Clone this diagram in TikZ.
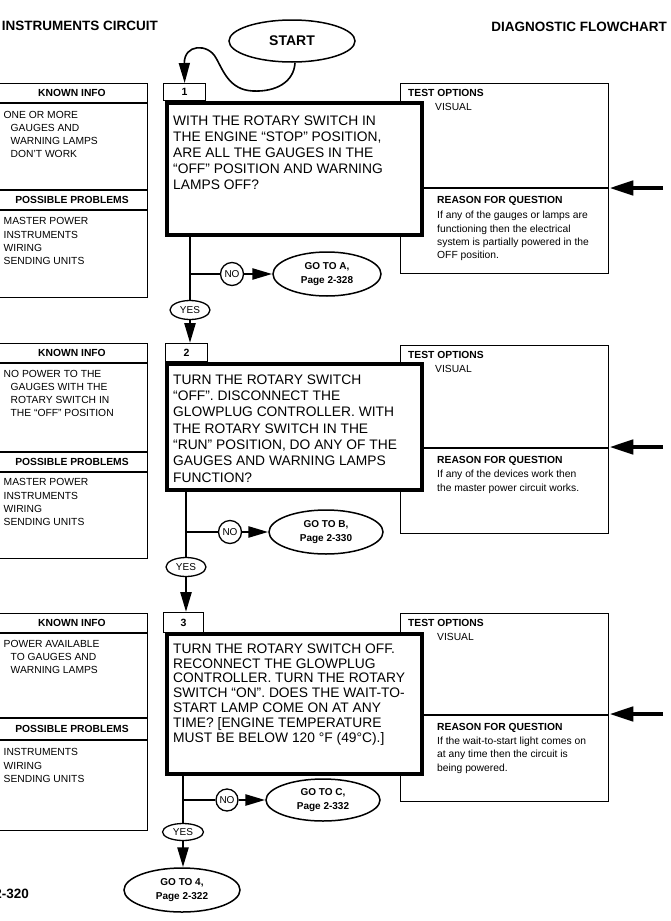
\documentclass[tikz,border=0pt]{standalone}
\usepackage{fontspec}
\setmainfont{Liberation Sans}
\usetikzlibrary{shapes.geometric,arrows.meta}
\tikzset{
  thinline/.style={line width=1.3pt},
  titletext/.style={font=\bfseries\fontsize{13.5}{16}\selectfont, inner sep=0, anchor=base east},
  mainbox/.style={draw, line width=4pt, fill=white, anchor=north west, inner sep=0},
  testbox/.style={draw, thinline, anchor=north west, minimum width=208, inner sep=0},
  leftbox/.style={draw, thinline, anchor=north west, minimum width=150, inner sep=0},
  numbox/.style={draw, thinline, fill=white, anchor=north west, inner sep=0, font=\bfseries\fontsize{10.5}{12}\selectfont},
  bhead/.style={font=\bfseries\fontsize{10.3}{12}\selectfont, inner sep=0},
  body/.style={font=\fontsize{10.3}{12}\selectfont, inner sep=0, anchor=base west},
  qtext/.style={font=\fontsize{13.8}{#1}\selectfont, inner sep=0, align=left, anchor=north west, yshift={0.7*#1}},
  ltext/.style={font=\fontsize{10.3}{13.2}\selectfont, inner sep=0, align=left, anchor=north west, yshift=9.24},
  rtext/.style={font=\fontsize{10.3}{13.4}\selectfont, inner sep=0, align=left, anchor=north west, yshift=9.38},
  goto/.style={draw, ellipse, line width=1.5pt, fill=white, font=\bfseries\fontsize{10}{14}\selectfont, align=center, inner sep=0},
  yesno/.style={draw, ellipse, thinline, fill=white, font=\fontsize{10}{12}\selectfont, inner sep=0},
  nocirc/.style={draw, circle, thinline, fill=white, font=\fontsize{10}{12}\selectfont, inner sep=0, minimum size=23},
  flow/.style={line width=2.4pt},
  bigarrow/.style={line width=2.6pt, -{Triangle[length=20pt,width=11pt]}},
  rarrow/.style={line width=4.5pt, -{Triangle[length=24pt,width=14pt]}},
}
\begin{document}
\begin{tikzpicture}[x=1pt,y=-1pt]
\useasboundingbox (0,0) rectangle (671,921);

% ---------- header ----------
\node[titletext] (title) at (158,30) {INSTRUMENTS CIRCUIT};
\node[titletext] (diag) at (667,31) {DIAGNOSTIC FLOWCHART};
\node[draw, ellipse, line width=1.5pt, minimum width=126, minimum height=42, inner sep=0,
      font=\bfseries\fontsize{14}{16}\selectfont] (start) at (292,41) {START};
\node[titletext] (pagenum) at (29,898) {2-320};

% ================= SECTION 1 =================
\node[leftbox, minimum height=214] (k1) at (-3,83) {};
\draw[thinline] (-3,103) -- (147,103);
\draw[thinline] (-3,190) -- (147,190);
\draw[thinline] (-3,210) -- (147,210);
\node[bhead] (ki1) at (72,93) {KNOWN INFO};
\node[bhead] (pp1) at (72,200) {POSSIBLE PROBLEMS};
\node[ltext] (kt1) at (3.5,118) {\strut ONE OR MORE\\\hspace*{7pt}GAUGES AND\\\hspace*{7pt}WARNING LAMPS\\\hspace*{7pt}DON'T WORK};
\node[ltext] (pt1) at (3.5,224.7) {\strut MASTER POWER\\INSTRUMENTS\\WIRING\\SENDING UNITS};

\node[testbox, minimum height=190] (tb1) at (400,83) {};
\coordinate (d1) at (420,188);
\draw[thinline] (d1) -- (d1 -| tb1.east);
\node[mainbox, minimum width=255, minimum height=132] (q1) at (165,101) {};
\node[numbox, minimum width=42, minimum height=17] (n1) at (163,83) {1};
\node[qtext=16] (q1t) at (173,125.5) {\strut WITH THE ROTARY SWITCH IN\\THE ENGINE “STOP” POSITION,\\ARE ALL THE GAUGES IN THE\\“OFF” POSITION AND WARNING\\LAMPS OFF?};
\node[bhead, anchor=base west] (to1) at (408,96.8) {TEST OPTIONS};
\node[body] (vis1) at (435,110.8) {VISUAL};
\node[bhead, anchor=base west] (rh1) at (437,203.8) {REASON FOR QUESTION};
\node[rtext] (rt1) at (437,218.5) {\strut If any of the gauges or lamps are\\functioning then the electrical\\system is partially powered in the\\OFF position.};
\coordinate (r1) at (663,188);
\draw[rarrow] (r1) -- (tb1.east |- r1);

\draw[-{Triangle[length=20pt,width=11pt]}, line width=1.6pt]
  ([xshift=3pt]start.south) .. controls (294,82) and (276,92) .. (253,91)
  .. controls (229,90) and (223,70) .. (216,58)
  .. controls (208,43) and (184,44) .. (n1.north);

\node[yesno, minimum width=40, minimum height=19] (y1) at (190,310) {YES};
\node[nocirc] (no1) at (232,274) {NO};
\node[goto, minimum width=108, minimum height=44] (ga) at (327,274) {GO TO A,\\Page 2-328};
\coordinate (b1) at (190,274);
\draw[flow] (y1.north |- q1.south) -- (y1.north);
\draw[flow] (b1) -- (no1.west);
\draw[bigarrow] (no1.east) -- (ga.west);

% ================= SECTION 2 =================
\node[leftbox, minimum height=215] (k2) at (-3,343) {};
\draw[thinline] (-3,363) -- (147,363);
\draw[thinline] (-3,452) -- (147,452);
\draw[thinline] (-3,472) -- (147,472);
\node[bhead] (ki2) at (72,353) {KNOWN INFO};
\node[bhead] (pp2) at (72,462) {POSSIBLE PROBLEMS};
\node[ltext] (kt2) at (3.5,377) {\strut NO POWER TO THE\\\hspace*{7pt}GAUGES WITH THE\\\hspace*{7pt}ROTARY SWITCH IN\\\hspace*{7pt}THE “OFF” POSITION};
\node[ltext] (pt2) at (3.5,485.7) {\strut MASTER POWER\\INSTRUMENTS\\WIRING\\SENDING UNITS};

\node[testbox, minimum height=188] (tb2) at (400,345) {};
\coordinate (d2) at (420,448);
\draw[thinline] (d2) -- (d2 -| tb2.east);
\node[mainbox, minimum width=255, minimum height=126] (q2) at (165,362) {};
\node[numbox, minimum width=42, minimum height=18] (n2) at (165,343) {2};
\node[qtext=16.3] (q2t) at (173,384) {\strut TURN THE ROTARY SWITCH\\“OFF”. DISCONNECT THE\\GLOWPLUG CONTROLLER. WITH\\THE ROTARY SWITCH IN THE\\“RUN” POSITION, DO ANY OF THE\\GAUGES AND WARNING LAMPS\\FUNCTION?};
\node[bhead, anchor=base west] (to2) at (408,358.8) {TEST OPTIONS};
\node[body] (vis2) at (435,372.8) {VISUAL};
\node[bhead, anchor=base west] (rh2) at (437,463.8) {REASON FOR QUESTION};
\node[rtext] (rt2) at (437,477.5) {\strut If any of the devices work then\\the master power circuit works.};
\coordinate (r2) at (663,447);
\draw[rarrow] (r2) -- (tb2.east |- r2);

\draw[bigarrow] (y1.south) -- (y1.south |- n2.north);

\node[yesno, minimum width=40, minimum height=19] (y2) at (186,567) {YES};
\node[nocirc] (no2) at (230,532) {NO};
\node[goto, minimum width=114, minimum height=44] (gb) at (326,532) {GO TO B,\\Page 2-330};
\coordinate (b2) at (186,532);
\draw[flow] (y2.north |- q2.south) -- (y2.north);
\draw[flow] (b2) -- (no2.west);
\draw[bigarrow] (no2.east) -- (gb.west);

% ================= SECTION 3 =================
\node[leftbox, minimum height=217] (k3) at (-3,613) {};
\draw[thinline] (-3,633) -- (147,633);
\draw[thinline] (-3,718) -- (147,718);
\draw[thinline] (-3,740) -- (147,740);
\node[bhead] (ki3) at (72,623) {KNOWN INFO};
\node[bhead] (pp3) at (72,729) {POSSIBLE PROBLEMS};
\node[ltext] (kt3) at (3.5,647) {\strut POWER AVAILABLE\\\hspace*{7pt}TO GAUGES AND\\\hspace*{7pt}WARNING LAMPS};
\node[ltext] (pt3) at (3.5,755.7) {\strut INSTRUMENTS\\WIRING\\SENDING UNITS};

\node[testbox, minimum height=188] (tb3) at (400,613) {};
\coordinate (d3) at (420,715);
\draw[thinline] (d3) -- (d3 -| tb3.east);
\node[mainbox, minimum width=255, minimum height=140] (q3) at (165,632) {};
\node[numbox, minimum width=40, minimum height=20] (n3) at (163,612) {3};
\node[qtext=14.8] (q3t) at (173,653) {\strut TURN THE ROTARY SWITCH OFF.\\RECONNECT THE GLOWPLUG\\CONTROLLER. TURN THE ROTARY\\SWITCH “ON”. DOES THE WAIT-TO-\\START LAMP COME ON AT ANY\\TIME? [ENGINE TEMPERATURE\\MUST BE BELOW 120 °F (49°C).]};
\node[bhead, anchor=base west] (to3) at (408,626.8) {TEST OPTIONS};
\node[body] (vis3) at (437,640.8) {VISUAL};
\node[bhead, anchor=base west] (rh3) at (437,730.8) {REASON FOR QUESTION};
\node[rtext] (rt3) at (437,744.3) {\strut If the wait-to-start light comes on\\at any time then the circuit is\\being powered.};
\coordinate (r3) at (663,714);
\draw[rarrow] (r3) -- (tb3.east |- r3);

\draw[bigarrow] (y2.south) -- (y2.south |- n3.north);

\node[yesno, minimum width=41, minimum height=17] (y3) at (183,832) {YES};
\node[nocirc, minimum size=22] (no3) at (227,800) {NO};
\node[goto, minimum width=114, minimum height=42] (gc) at (323,800) {GO TO C,\\Page 2-332};
\node[goto, minimum width=116, minimum height=44] (g4) at (182,890) {GO TO 4,\\Page 2-322};
\coordinate (b3) at (183,800);
\draw[flow] (y3.north |- q3.south) -- (y3.north);
\draw[flow] (b3) -- (no3.west);
\draw[bigarrow] (no3.east) -- (gc.west);
\draw[bigarrow] (y3.south) -- (y3.south |- g4.north);
\end{tikzpicture}
\end{document}
